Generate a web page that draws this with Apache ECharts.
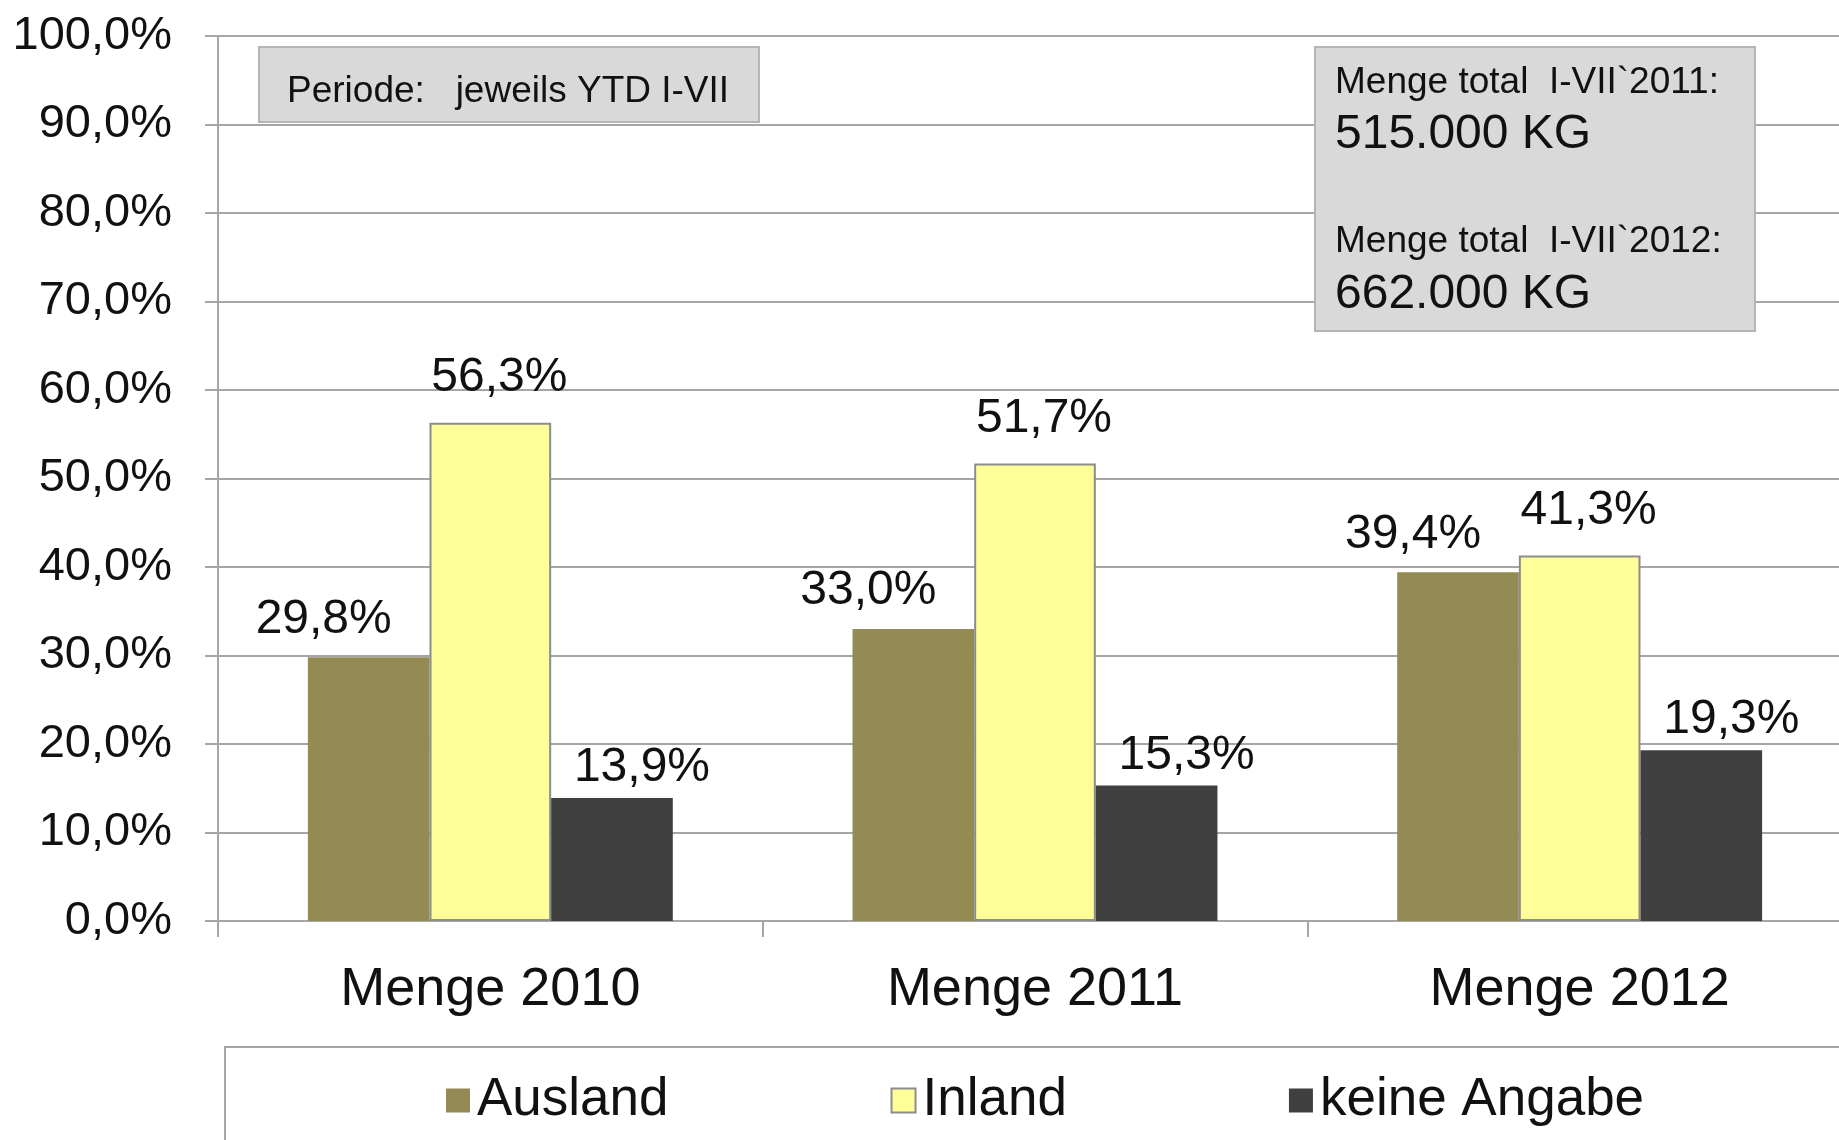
<!DOCTYPE html>
<html>
<head>
<meta charset="utf-8">
<script src="https://cdn.jsdelivr.net/npm/echarts@6/dist/echarts.min.js"></script>
<style>
html,body{margin:0;padding:0;background:#fff;overflow:hidden;width:1839px;height:1140px;}
#c{width:1852px;height:1140px;}
</style>
</head>
<body>
<div id="c"></div>
<script>
const categories = ['Menge 2010', 'Menge 2011', 'Menge 2012'];
const seriesNames = ['Ausland', 'Inland', 'keine Angabe'];
const ausland = [29.8, 33.0, 39.4];
const inland = [56.3, 51.7, 41.3];
const keineAngabe = [13.9, 15.3, 19.3];
const yTicks = [0, 10, 20, 30, 40, 50, 60, 70, 80, 90, 100];
const boxPeriode = 'Periode:   jeweils YTD I-VII';
const boxLines = ['Menge total  I-VII`2011:', '515.000 KG', 'Menge total  I-VII`2012:', '662.000 KG'];

const FONT = '"Liberation Sans", Arial, sans-serif';
const fmt = v => v.toFixed(1).replace('.', ',') + '%';

const chart = echarts.init(document.getElementById('c'), null, {renderer: 'canvas'});

function mkSeries(name, data, color, border, offX, dist) {
  return {
    name: name,
    type: 'bar',
    data: data,
    barGap: '0%',
    barCategoryGap: '33%',
    itemStyle: {color: color, borderColor: border || color, borderWidth: border ? 2 : 0},
    label: {
      show: true, position: 'top', distance: dist, offset: [offX, 0],
      formatter: p => fmt(p.value),
      fontFamily: FONT, fontSize: 48, color: '#111'
    },
    emphasis: {disabled: true}
  };
}

chart.setOption({
  animation: false,
  backgroundColor: '#ffffff',
  grid: {left: 218, top: 36, right: 0, bottom: 219, containLabel: false},
  xAxis: {
    type: 'category',
    data: categories,
    axisLine: {lineStyle: {color: '#a6a6a6', width: 2}},
    axisTick: {show: true, length: 16, lineStyle: {color: '#a6a6a6', width: 2}},
    axisLabel: {fontFamily: FONT, fontSize: 54, color: '#111', margin: 42}
  },
  yAxis: {
    type: 'value',
    min: yTicks[0], max: yTicks[yTicks.length - 1], interval: 10,
    axisLine: {show: true, lineStyle: {color: '#a6a6a6', width: 2}},
    axisTick: {show: true, length: 13, lineStyle: {color: '#a6a6a6', width: 2}},
    splitLine: {show: true, lineStyle: {color: '#a6a6a6', width: 2}},
    axisLabel: {fontFamily: FONT, fontSize: 47, color: '#111', margin: 46, formatter: v => fmt(v)}
  },
  legend: {
    data: seriesNames,
    left: 446, top: 1074,
    itemWidth: 24, itemHeight: 24, itemGap: 222,
    icon: 'rect',
    padding: 0,
    textStyle: {fontFamily: FONT, fontSize: 53, color: '#111', padding: [0, 0, 0, 2]}
  },
  series: [
    mkSeries(seriesNames[0], ausland, '#948a54', null, -45, 14),
    mkSeries(seriesNames[1], inland, '#ffff99', '#8c8c8c', 9, 21),
    mkSeries(seriesNames[2], keineAngabe, '#404040', null, 30, 6)
  ],
  graphic: [
    {type: 'rect', z: 100, shape: {x: 225, y: 1047, width: 1700, height: 200},
     style: {fill: 'none', stroke: '#a6a6a6', lineWidth: 2}},
    {type: 'rect', z: 100, shape: {x: 259, y: 47, width: 500, height: 75},
     style: {fill: '#d9d9d9', stroke: '#b5b5b5', lineWidth: 2}},
    {type: 'text', z: 101, x: 287, y: 92,
     style: {text: boxPeriode, fontFamily: FONT, fontSize: 37, fill: '#111', verticalAlign: 'middle'}},
    {type: 'rect', z: 100, shape: {x: 1315, y: 47, width: 440, height: 284},
     style: {fill: '#d9d9d9', stroke: '#b5b5b5', lineWidth: 2}},
    {type: 'text', z: 101, x: 1335, y: 83,
     style: {text: boxLines[0], fontFamily: FONT, fontSize: 37, fill: '#111', verticalAlign: 'middle'}},
    {type: 'text', z: 101, x: 1335, y: 135,
     style: {text: boxLines[1], fontFamily: FONT, fontSize: 48, fill: '#111', verticalAlign: 'middle'}},
    {type: 'text', z: 101, x: 1335, y: 242,
     style: {text: boxLines[2], fontFamily: FONT, fontSize: 37, fill: '#111', verticalAlign: 'middle'}},
    {type: 'text', z: 101, x: 1335, y: 295,
     style: {text: boxLines[3], fontFamily: FONT, fontSize: 48, fill: '#111', verticalAlign: 'middle'}}
  ]
});
</script>
</body>
</html>
